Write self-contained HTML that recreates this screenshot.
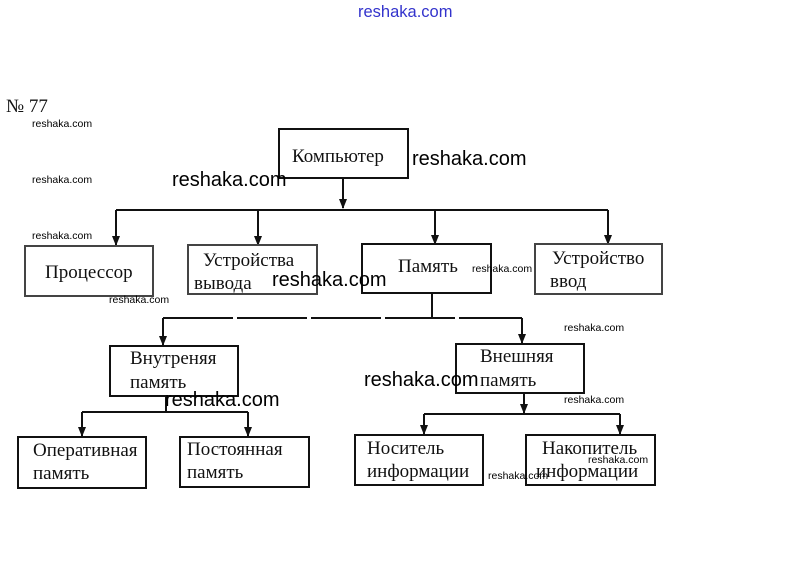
<!DOCTYPE html>
<html><head><meta charset="utf-8"><style>
body{margin:0;background:#fff;width:811px;height:585px;overflow:hidden}
svg{display:block}
.s{font-family:"Liberation Serif","DejaVu Serif",serif;font-size:19px;fill:#111}
.w{font-family:"Liberation Sans","DejaVu Sans",sans-serif;font-size:20px;fill:#000}
.ws{font-family:"Liberation Sans",sans-serif;font-size:10.5px;fill:#000}
</style></head><body>
<svg width="811" height="585" viewBox="0 0 811 585">
<defs><marker id="a" markerWidth="10" markerHeight="8" refX="9" refY="4" orient="auto" markerUnits="userSpaceOnUse"><path d="M0,0 L10,4 L0,8 Z" fill="#111"/></marker></defs>
<text x="358" y="17" font-family="Liberation Sans,sans-serif" font-size="16.5" fill="#33c">reshaka.com</text>
<text x="6" y="112" class="s" font-size="18">№ 77</text>
<g fill="none" stroke="#111" stroke-width="2">
<rect x="279" y="129" width="129" height="49"/>
<line x1="343" y1="178" x2="343" y2="208" marker-end="url(#a)"/>
<line x1="116" y1="210" x2="608" y2="210"/>
<line x1="116" y1="210" x2="116" y2="245" marker-end="url(#a)"/>
<line x1="258" y1="210" x2="258" y2="245" marker-end="url(#a)"/>
<line x1="435" y1="210" x2="435" y2="244" marker-end="url(#a)"/>
<line x1="608" y1="210" x2="608" y2="244" marker-end="url(#a)"/>
<rect x="25" y="246" width="128" height="50" stroke="#444"/>
<rect x="188" y="245" width="129" height="49" stroke="#444"/>
<rect x="362" y="244" width="129" height="49"/>
<rect x="535" y="244" width="127" height="50" stroke="#444"/>
<line x1="432" y1="293" x2="432" y2="318"/>
<line x1="163" y1="318" x2="522" y2="318" stroke-dasharray="70,4"/>
<line x1="163" y1="318" x2="163" y2="345" marker-end="url(#a)"/>
<line x1="522" y1="318" x2="522" y2="343" marker-end="url(#a)"/>
<rect x="110" y="346" width="128" height="50"/>
<rect x="456" y="344" width="128" height="49"/>
<line x1="166" y1="396" x2="166" y2="412"/>
<line x1="82" y1="412" x2="248" y2="412"/>
<line x1="82" y1="412" x2="82" y2="436" marker-end="url(#a)"/>
<line x1="248" y1="412" x2="248" y2="436" marker-end="url(#a)"/>
<rect x="18" y="437" width="128" height="51"/>
<rect x="180" y="437" width="129" height="50"/>
<line x1="524" y1="393" x2="524" y2="413" marker-end="url(#a)"/>
<line x1="424" y1="414" x2="620" y2="414"/>
<line x1="424" y1="414" x2="424" y2="434" marker-end="url(#a)"/>
<line x1="620" y1="414" x2="620" y2="434" marker-end="url(#a)"/>
<rect x="355" y="435" width="128" height="50"/>
<rect x="526" y="435" width="129" height="50"/>
</g>
<text x="292" y="162" class="s">Компьютер</text>
<text x="45" y="278" class="s" fill="#999">Процессор</text>
<text x="203" y="266" class="s" fill="#888">Устройства</text>
<text x="194" y="289" class="s" fill="#888">вывода</text>
<text x="398" y="272" class="s" fill="#777">Память</text>
<text x="552" y="264" class="s" fill="#888">Устройство</text>
<text x="550" y="287" class="s" fill="#888">ввод</text>
<text x="130" y="364" class="s">Внутреняя</text>
<text x="130" y="388" class="s">память</text>
<text x="480" y="362" class="s">Внешняя</text>
<text x="480" y="386" class="s">память</text>
<text x="33" y="456" class="s">Оперативная</text>
<text x="33" y="479" class="s">память</text>
<text x="187" y="455" class="s">Постоянная</text>
<text x="187" y="478" class="s">память</text>
<text x="367" y="454" class="s">Носитель</text>
<text x="367" y="477" class="s">информации</text>
<text x="542" y="454" class="s">Накопитель</text>
<text x="536" y="477" class="s">информации</text>
<text x="172" y="186" class="w">reshaka.com</text>
<text x="412" y="165" class="w">reshaka.com</text>
<text x="272" y="286" class="w">reshaka.com</text>
<text x="364" y="386" class="w">reshaka.com</text>
<text x="165" y="406" class="w">reshaka.com</text>
<text x="32" y="127" class="ws">reshaka.com</text>
<text x="32" y="183" class="ws">reshaka.com</text>
<text x="32" y="239" class="ws">reshaka.com</text>
<text x="109" y="303" class="ws" font-size="12">reshaka.com</text>
<text x="472" y="272" class="ws" font-size="12">reshaka.com</text>
<text x="564" y="331" class="ws" font-size="12">reshaka.com</text>
<text x="564" y="403" class="ws" font-size="12">reshaka.com</text>
<text x="488" y="479" class="ws">reshaka.com</text>
<text x="588" y="463" class="ws">reshaka.com</text>
</svg>
</body></html>
